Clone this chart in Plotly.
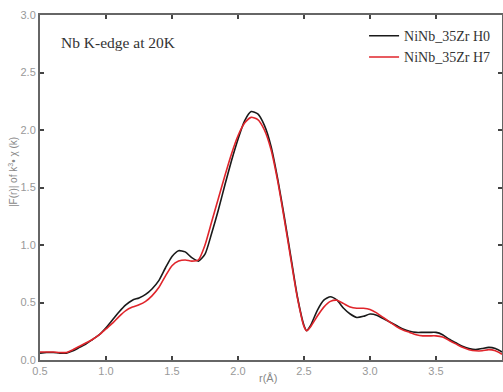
import plotly.graph_objects as go

r = [0.5, 0.55, 0.6, 0.65, 0.7, 0.75, 0.8, 0.85, 0.9, 0.95, 1.0, 1.05, 1.1, 1.15, 1.2, 1.25,
     1.3, 1.35, 1.4, 1.45, 1.5, 1.55, 1.6, 1.65, 1.7, 1.75, 1.8, 1.85, 1.9, 1.95, 2.0, 2.05,
     2.1, 2.15, 2.2, 2.25, 2.3, 2.35, 2.4, 2.45, 2.5, 2.52, 2.55, 2.6, 2.65, 2.7, 2.75, 2.8,
     2.85, 2.9, 2.95, 3.0, 3.05, 3.1, 3.15, 3.2, 3.25, 3.3, 3.35, 3.4, 3.45, 3.5, 3.55, 3.6,
     3.65, 3.7, 3.75, 3.8, 3.85, 3.9, 3.95, 4.0]

h0 = [0.06, 0.065, 0.065, 0.06, 0.06, 0.08, 0.11, 0.14, 0.18, 0.22, 0.28, 0.35, 0.42, 0.48, 0.52, 0.54,
      0.57, 0.62, 0.69, 0.80, 0.90, 0.95, 0.94, 0.89, 0.86, 0.92, 1.10, 1.30, 1.52, 1.73, 1.92, 2.08,
      2.16, 2.14, 2.04, 1.86, 1.58, 1.25, 0.90, 0.55, 0.30, 0.255, 0.30, 0.43, 0.52, 0.55, 0.52, 0.45,
      0.40, 0.37, 0.38, 0.40, 0.39, 0.36, 0.33, 0.30, 0.27, 0.25, 0.24, 0.24, 0.24, 0.24, 0.22, 0.18,
      0.15, 0.12, 0.10, 0.09, 0.10, 0.11, 0.10, 0.07]

h7 = [0.07, 0.07, 0.07, 0.065, 0.065, 0.09, 0.12, 0.15, 0.18, 0.22, 0.27, 0.32, 0.38, 0.43, 0.46, 0.48,
      0.51, 0.56, 0.63, 0.73, 0.82, 0.86, 0.87, 0.86, 0.87, 1.00, 1.20, 1.40, 1.60, 1.79, 1.95, 2.06,
      2.11, 2.09, 2.00, 1.83, 1.56, 1.23, 0.88, 0.54, 0.29, 0.255, 0.29, 0.38, 0.46, 0.51, 0.52, 0.49,
      0.46, 0.45, 0.45, 0.44, 0.41, 0.37, 0.33, 0.29, 0.26, 0.24, 0.22, 0.21, 0.21, 0.21, 0.20, 0.17,
      0.14, 0.11, 0.09, 0.08, 0.08, 0.09, 0.08, 0.05]

series_names = ["NiNb_35Zr H0", "NiNb_35Zr H7"]
x_ticks = [0.5, 1.0, 1.5, 2.0, 2.5, 3.0, 3.5, 4.0]
y_ticks = [0.0, 0.5, 1.0, 1.5, 2.0, 2.5, 3.0]

fig = go.Figure()
fig.add_trace(go.Scatter(x=r, y=h0, mode="lines", name=series_names[0],
                         line=dict(color="#1a1a1a", width=1.6, shape="spline", smoothing=0.6)))
fig.add_trace(go.Scatter(x=r, y=h7, mode="lines", name=series_names[1],
                         line=dict(color="#e0252b", width=1.6, shape="spline", smoothing=0.6)))

axis_common = dict(showgrid=False, zeroline=False, showline=True, linecolor="#666666", linewidth=2,
                   mirror="ticks", ticks="inside", ticklen=4, tickcolor="#444444", tickwidth=1.5,
                   tickfont=dict(family="Liberation Sans, Arial", size=11, color="#999999"),
                   tickformat=".1f", automargin=False)

fig.update_layout(
    width=503, height=392,
    margin=dict(l=40, r=1, t=15, b=32),
    paper_bgcolor="white", plot_bgcolor="white",
    xaxis=dict(range=[0.5, 4.0], tickvals=x_ticks, **axis_common),
    yaxis=dict(range=[0.0, 3.0], tickvals=y_ticks, **axis_common),
    legend=dict(x=0.985, y=0.985, xanchor="right", yanchor="top", bgcolor="rgba(0,0,0,0)",
                font=dict(family="Liberation Serif, Times New Roman", size=14, color="#333333"),
                tracegroupgap=0, itemwidth=30),
    showlegend=True,
    annotations=[
        dict(text="Nb K-edge at 20K", xref="paper", yref="paper", x=0.041, y=0.92,
             xanchor="left", yanchor="middle", showarrow=False,
             font=dict(family="Liberation Serif, Times New Roman", size=15.5, color="#333333")),
        dict(text="r(Å)", xref="paper", yref="paper", x=0.494, y=0, yshift=-18,
             xanchor="center", yanchor="middle", showarrow=False,
             font=dict(family="Liberation Sans, Arial", size=11, color="#888888")),
        dict(text="|F(r)| of k<sup>3</sup>• χ (k)", xref="paper", yref="paper", x=0, xshift=-27,
             y=0.545, textangle=-90, xanchor="center", yanchor="middle", showarrow=False,
             font=dict(family="Liberation Sans, Arial", size=10, color="#888888")),
    ],
)

fig.write_html("out.html", config={"displayModeBar": False},
               post_script="document.body.style.margin='0';document.body.style.overflow='hidden';")
